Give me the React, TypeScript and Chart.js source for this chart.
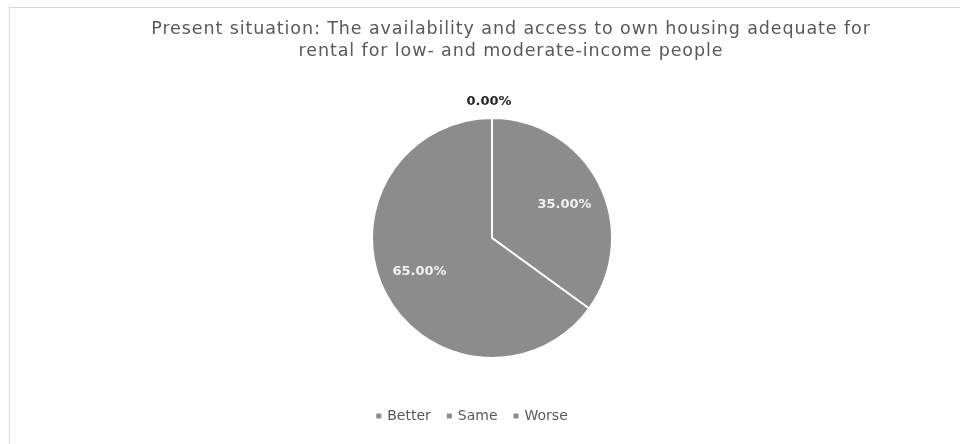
import { useEffect, useRef } from "react";
import { Chart, registerables } from "chart.js";

Chart.register(...registerables);

const TITLE_LINES = [
  "Present situation: The availability and access to own housing adequate for",
  "rental for low- and moderate-income people",
];
const CATEGORIES = ["Better", "Same", "Worse"];
const VALUES = [0, 35, 65];
const SLICE_COLORS = ["#8c8c8c", "#8c8c8c", "#8c8c8c"];

const FONT = "'DejaVu Sans', sans-serif";

const titlePlugin = {
  id: "customTitle",
  afterDraw(chart: any) {
    const ctx = chart.ctx;
    ctx.save();
    ctx.fillStyle = "#595959";
    ctx.font = `17.5px ${FONT}`;
    (ctx as any).letterSpacing = "0.9px";
    ctx.textAlign = "center";
    ctx.textBaseline = "middle";
    const cx = 511;
    TITLE_LINES.forEach((line, i) => ctx.fillText(line, cx, 29 + i * 22));
    ctx.restore();
  },
};

const labelPlugin = {
  id: "sliceLabels",
  afterDatasetsDraw(chart: any) {
    const ctx = chart.ctx;
    const meta = chart.getDatasetMeta(0);
    const data = chart.data.datasets[0].data as number[];
    ctx.save();
    ctx.textAlign = "center";
    ctx.textBaseline = "middle";
    meta.data.forEach((arc: any, i: number) => {
      const { x, y, startAngle, endAngle, outerRadius } = arc.getProps(
        ["x", "y", "startAngle", "endAngle", "outerRadius"],
        true
      );
      const mid = (startAngle + endAngle) / 2;
      const v = data[i];
      const text = `${v.toFixed(2)}%`;
      ctx.font = `bold 13px ${FONT}`;
      if (v === 0) {
        const r = outerRadius + 16;
        ctx.fillStyle = "#262626";
        ctx.fillText(text, x + Math.cos(mid) * r - 3, y + Math.sin(mid) * r);
      } else {
        const r = outerRadius * 0.665;
        const a = mid + 0.04;
        ctx.fillStyle = "#f2f2f2";
        ctx.fillText(text, x + Math.cos(a) * r, y + Math.sin(a) * r);
      }
    });
    ctx.restore();
  },
};

const legendPlugin = {
  id: "customLegend",
  afterDraw(chart: any) {
    const ctx = chart.ctx;
    const labels = chart.data.labels as string[];
    const colors = chart.data.datasets[0].backgroundColor as string[];
    ctx.save();
    ctx.font = `14px ${FONT}`;
    ctx.textBaseline = "middle";
    ctx.textAlign = "left";
    const box = 5;
    const gap = 6;
    const itemGap = 16;
    const widths = labels.map((l) => box + gap + ctx.measureText(l).width);
    const total = widths.reduce((a, b) => a + b, 0) + itemGap * (labels.length - 1);
    let x = 472 - total / 2;
    const y = 416;
    labels.forEach((l, i) => {
      ctx.fillStyle = colors[i];
      ctx.fillRect(x, y - box / 2, box, box);
      ctx.fillStyle = "#595959";
      ctx.fillText(l, x + box + gap, y);
      x += widths[i] + itemGap;
    });
    ctx.restore();
  },
};

export default function App() {
  const ref = useRef<HTMLCanvasElement | null>(null);
  useEffect(() => {
    if (!ref.current) return;
    const chart = new Chart(ref.current, {
      type: "pie",
      data: {
        labels: CATEGORIES,
        datasets: [
          {
            data: VALUES,
            backgroundColor: SLICE_COLORS,
            borderColor: "#ffffff",
            borderWidth: 2,
            hoverOffset: 0,
            radius: 120,
          } as any,
        ],
      },
      options: {
        responsive: false,
        animation: false,
        devicePixelRatio: 1,
        layout: { padding: { left: 24, right: 0, top: 32, bottom: 0 } },
        plugins: {
          legend: { display: false },
          title: { display: false },
          tooltip: { enabled: false },
        },
        events: [],
      },
      plugins: [titlePlugin, labelPlugin, legendPlugin],
    });
    return () => chart.destroy();
  }, []);

  return (
    <div style={{ position: "absolute", left: 0, top: 0, width: 960, height: 444, overflow: "hidden", background: "#ffffff" }}>
      <div
        style={{
          position: "absolute",
          left: 9,
          top: 7,
          width: 960,
          height: 444,
          border: "1px solid #d9d9d9",
          boxSizing: "border-box",
        }}
      />
      <canvas ref={ref} width={960} height={444} style={{ position: "absolute", left: 0, top: 0 }} />
    </div>
  );
}
